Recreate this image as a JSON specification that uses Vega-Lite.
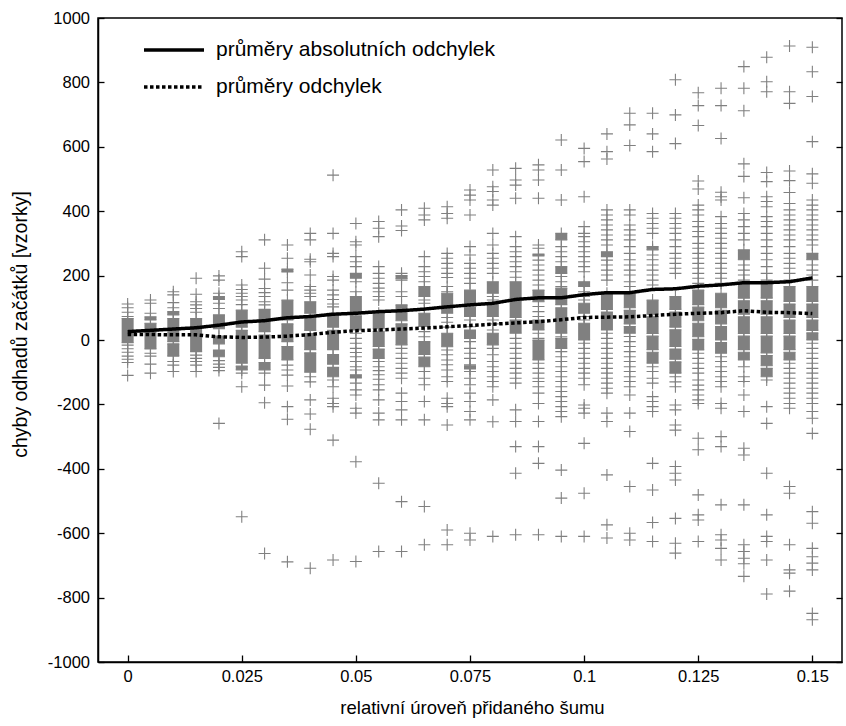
{
"$schema": "https://vega.github.io/schema/vega-lite/v6.json",
"width": 744, "height": 644,
"autosize": {"type": "none"},
"padding": {"left": 98, "top": 18, "right": 4, "bottom": 64},
"background": "white",
"config": {
 "view": {"stroke": "#000", "strokeWidth": 1.5},
 "font": "Liberation Sans",
 "axis": {"labelFont": "Liberation Sans", "titleFont": "Liberation Sans", "labelColor": "#000", "titleColor": "#000", "domainColor": "#000", "tickColor": "#000", "grid": false, "labelFontSize": 16.5, "titleFontSize": 19, "titleFontWeight": "normal", "domainWidth": 1.5, "tickWidth": 1.3, "labelFlush": false},
 "legend": {"padding": 0}
},
"datasets": {
"b": [
{"x":0,"y":67,"y2":-8},
{"x":0.005,"y":72,"y2":62},{"x":0.005,"y":52,"y2":-28},
{"x":0.01,"y":88,"y2":78},{"x":0.01,"y":67,"y2":-5},{"x":0.01,"y":-12,"y2":-50},
{"x":0.015,"y":67,"y2":-36},
{"x":0.02,"y":135,"y2":126},{"x":0.02,"y":78,"y2":35},{"x":0.02,"y":12,"y2":-12},{"x":0.02,"y":-31,"y2":-52},
{"x":0.025,"y":93,"y2":40},{"x":0.025,"y":30,"y2":-72},{"x":0.025,"y":-81,"y2":-93},
{"x":0.03,"y":95,"y2":26},{"x":0.03,"y":15,"y2":-57},{"x":0.03,"y":-70,"y2":-93},
{"x":0.035,"y":220,"y2":211},{"x":0.035,"y":124,"y2":62},{"x":0.035,"y":50,"y2":-5},{"x":0.035,"y":-20,"y2":-62},
{"x":0.04,"y":119,"y2":83},{"x":0.04,"y":75,"y2":30},{"x":0.04,"y":20,"y2":-30},{"x":0.04,"y":-40,"y2":-100},
{"x":0.045,"y":83,"y2":40},{"x":0.045,"y":30,"y2":-30},{"x":0.045,"y":-45,"y2":-75},{"x":0.045,"y":-85,"y2":-114},
{"x":0.05,"y":207,"y2":192},{"x":0.05,"y":135,"y2":85},{"x":0.05,"y":75,"y2":31},{"x":0.05,"y":-108,"y2":-118},
{"x":0.055,"y":83,"y2":35},{"x":0.055,"y":27,"y2":-20},{"x":0.055,"y":-28,"y2":-57},
{"x":0.06,"y":200,"y2":190},{"x":0.06,"y":109,"y2":60},{"x":0.06,"y":50,"y2":-15},
{"x":0.065,"y":166,"y2":135},{"x":0.065,"y":83,"y2":42},{"x":0.065,"y":-5,"y2":-45},{"x":0.065,"y":-53,"y2":-83},
{"x":0.07,"y":145,"y2":83},{"x":0.07,"y":21,"y2":-21},
{"x":0.075,"y":155,"y2":110},{"x":0.075,"y":102,"y2":73},{"x":0.075,"y":31,"y2":5},{"x":0.075,"y":-80,"y2":-90},
{"x":0.08,"y":181,"y2":145},{"x":0.08,"y":114,"y2":73},{"x":0.08,"y":21,"y2":-15},
{"x":0.085,"y":181,"y2":130},{"x":0.085,"y":122,"y2":70},{"x":0.085,"y":62,"y2":21},
{"x":0.09,"y":267,"y2":261},{"x":0.09,"y":155,"y2":119},{"x":0.09,"y":62,"y2":31},{"x":0.09,"y":0,"y2":-62},
{"x":0.095,"y":331,"y2":311},{"x":0.095,"y":228,"y2":207},{"x":0.095,"y":161,"y2":110},{"x":0.095,"y":100,"y2":21},{"x":0.095,"y":5,"y2":-26},
{"x":0.1,"y":181,"y2":166},{"x":0.1,"y":114,"y2":83},{"x":0.1,"y":52,"y2":0},
{"x":0.105,"y":274,"y2":259},{"x":0.105,"y":145,"y2":95},{"x":0.105,"y":87,"y2":31},
{"x":0.11,"y":145,"y2":100},{"x":0.11,"y":92,"y2":50},{"x":0.11,"y":42,"y2":21},
{"x":0.115,"y":290,"y2":280},{"x":0.115,"y":124,"y2":80},{"x":0.115,"y":72,"y2":20},{"x":0.115,"y":12,"y2":-30},{"x":0.115,"y":-38,"y2":-72},
{"x":0.12,"y":135,"y2":95},{"x":0.12,"y":87,"y2":40},{"x":0.12,"y":32,"y2":-20},{"x":0.12,"y":-28,"y2":-60},{"x":0.12,"y":-68,"y2":-103},
{"x":0.125,"y":155,"y2":110},{"x":0.125,"y":102,"y2":60},{"x":0.125,"y":52,"y2":10},{"x":0.125,"y":2,"y2":-31},
{"x":0.13,"y":145,"y2":100},{"x":0.13,"y":92,"y2":50},{"x":0.13,"y":42,"y2":0},{"x":0.13,"y":-8,"y2":-41},
{"x":0.135,"y":280,"y2":249},{"x":0.135,"y":176,"y2":130},{"x":0.135,"y":122,"y2":80},{"x":0.135,"y":72,"y2":20},{"x":0.135,"y":12,"y2":-30},{"x":0.135,"y":-38,"y2":-62},
{"x":0.14,"y":176,"y2":130},{"x":0.14,"y":122,"y2":80},{"x":0.14,"y":72,"y2":20},{"x":0.14,"y":12,"y2":-40},{"x":0.14,"y":-48,"y2":-80},{"x":0.14,"y":-88,"y2":-114},
{"x":0.145,"y":166,"y2":120},{"x":0.145,"y":112,"y2":70},{"x":0.145,"y":62,"y2":20},{"x":0.145,"y":12,"y2":-30},{"x":0.145,"y":-38,"y2":-62},
{"x":0.15,"y":269,"y2":249},{"x":0.15,"y":166,"y2":120},{"x":0.15,"y":112,"y2":70},{"x":0.15,"y":62,"y2":30},{"x":0.15,"y":22,"y2":0}
],
"p": [
{"x":0,"y":112},{"x":0,"y":100},{"x":0,"y":86},{"x":0,"y":73},{"x":0,"y":-16},{"x":0,"y":-27},{"x":0,"y":-38},{"x":0,"y":-50},{"x":0,"y":-60},{"x":0,"y":-70},{"x":0,"y":-110},
{"x":0.005,"y":124},{"x":0.005,"y":114},{"x":0.005,"y":83},{"x":0.005,"y":-41},{"x":0.005,"y":-50},{"x":0.005,"y":-75},{"x":0.005,"y":-103},
{"x":0.01,"y":150},{"x":0.01,"y":140},{"x":0.01,"y":116},{"x":0.01,"y":100},{"x":0.01,"y":-67},{"x":0.01,"y":-78},{"x":0.01,"y":-98},
{"x":0.015,"y":192},{"x":0.015,"y":142},{"x":0.015,"y":119},{"x":0.015,"y":109},{"x":0.015,"y":98},{"x":0.015,"y":86},{"x":0.015,"y":-47},{"x":0.015,"y":-57},{"x":0.015,"y":-67},{"x":0.015,"y":-78},{"x":0.015,"y":-98},
{"x":0.02,"y":199},{"x":0.02,"y":186},{"x":0.02,"y":145},{"x":0.02,"y":114},{"x":0.02,"y":98},{"x":0.02,"y":-64},{"x":0.02,"y":-75},{"x":0.02,"y":-85},{"x":0.02,"y":-95},{"x":0.02,"y":-259},
{"x":0.025,"y":274},{"x":0.025,"y":259},{"x":0.025,"y":171},{"x":0.025,"y":157},{"x":0.025,"y":145},{"x":0.025,"y":135},{"x":0.025,"y":124},{"x":0.025,"y":110},{"x":0.025,"y":-103},{"x":0.025,"y":-145},{"x":0.025,"y":-549},
{"x":0.03,"y":311},{"x":0.03,"y":223},{"x":0.03,"y":189},{"x":0.03,"y":160},{"x":0.03,"y":147},{"x":0.03,"y":135},{"x":0.03,"y":119},{"x":0.03,"y":109},{"x":0.03,"y":-103},{"x":0.03,"y":-140},{"x":0.03,"y":-195},{"x":0.03,"y":-663},
{"x":0.035,"y":295},{"x":0.035,"y":254},{"x":0.035,"y":178},{"x":0.035,"y":155},{"x":0.035,"y":-78},{"x":0.035,"y":-93},{"x":0.035,"y":-109},{"x":0.035,"y":-143},{"x":0.035,"y":-207},{"x":0.035,"y":-246},{"x":0.035,"y":-689},
{"x":0.04,"y":331},{"x":0.04,"y":311},{"x":0.04,"y":251},{"x":0.04,"y":243},{"x":0.04,"y":202},{"x":0.04,"y":166},{"x":0.04,"y":155},{"x":0.04,"y":145},{"x":0.04,"y":135},{"x":0.04,"y":-114},{"x":0.04,"y":-130},{"x":0.04,"y":-186},{"x":0.04,"y":-230},{"x":0.04,"y":-277},{"x":0.04,"y":-709},
{"x":0.045,"y":512},{"x":0.045,"y":331},{"x":0.045,"y":269},{"x":0.045,"y":259},{"x":0.045,"y":197},{"x":0.045,"y":186},{"x":0.045,"y":155},{"x":0.045,"y":140},{"x":0.045,"y":126},{"x":0.045,"y":112},{"x":0.045,"y":103},{"x":0.045,"y":-124},{"x":0.045,"y":-145},{"x":0.045,"y":-181},{"x":0.045,"y":-197},{"x":0.045,"y":-207},{"x":0.045,"y":-311},{"x":0.045,"y":-683},
{"x":0.05,"y":362},{"x":0.05,"y":305},{"x":0.05,"y":295},{"x":0.05,"y":259},{"x":0.05,"y":243},{"x":0.05,"y":228},{"x":0.05,"y":181},{"x":0.05,"y":150},{"x":0.05,"y":21},{"x":0.05,"y":5},{"x":0.05,"y":-10},{"x":0.05,"y":-26},{"x":0.05,"y":-39},{"x":0.05,"y":-52},{"x":0.05,"y":-67},{"x":0.05,"y":-83},{"x":0.05,"y":-93},{"x":0.05,"y":-134},{"x":0.05,"y":-155},{"x":0.05,"y":-171},{"x":0.05,"y":-212},{"x":0.05,"y":-227},{"x":0.05,"y":-378},{"x":0.05,"y":-688},
{"x":0.055,"y":368},{"x":0.055,"y":347},{"x":0.055,"y":321},{"x":0.055,"y":228},{"x":0.055,"y":207},{"x":0.055,"y":192},{"x":0.055,"y":176},{"x":0.055,"y":161},{"x":0.055,"y":150},{"x":0.055,"y":135},{"x":0.055,"y":124},{"x":0.055,"y":-67},{"x":0.055,"y":-83},{"x":0.055,"y":-95},{"x":0.055,"y":-108},{"x":0.055,"y":-122},{"x":0.055,"y":-139},{"x":0.055,"y":-155},{"x":0.055,"y":-186},{"x":0.055,"y":-227},{"x":0.055,"y":-248},{"x":0.055,"y":-445},{"x":0.055,"y":-657},
{"x":0.06,"y":404},{"x":0.06,"y":354},{"x":0.06,"y":340},{"x":0.06,"y":207},{"x":0.06,"y":186},{"x":0.06,"y":150},{"x":0.06,"y":135},{"x":0.06,"y":-26},{"x":0.06,"y":-41},{"x":0.06,"y":-57},{"x":0.06,"y":-72},{"x":0.06,"y":-88},{"x":0.06,"y":-103},{"x":0.06,"y":-119},{"x":0.06,"y":-165},{"x":0.06,"y":-191},{"x":0.06,"y":-217},{"x":0.06,"y":-248},{"x":0.06,"y":-502},{"x":0.06,"y":-657},
{"x":0.065,"y":409},{"x":0.065,"y":388},{"x":0.065,"y":373},{"x":0.065,"y":259},{"x":0.065,"y":228},{"x":0.065,"y":212},{"x":0.065,"y":197},{"x":0.065,"y":181},{"x":0.065,"y":124},{"x":0.065,"y":114},{"x":0.065,"y":98},{"x":0.065,"y":26},{"x":0.065,"y":10},{"x":0.065,"y":-98},{"x":0.065,"y":-119},{"x":0.065,"y":-139},{"x":0.065,"y":-191},{"x":0.065,"y":-248},{"x":0.065,"y":-517},{"x":0.065,"y":-636},
{"x":0.07,"y":414},{"x":0.07,"y":393},{"x":0.07,"y":378},{"x":0.07,"y":269},{"x":0.07,"y":254},{"x":0.07,"y":238},{"x":0.07,"y":223},{"x":0.07,"y":207},{"x":0.07,"y":194},{"x":0.07,"y":166},{"x":0.07,"y":150},{"x":0.07,"y":70},{"x":0.07,"y":55},{"x":0.07,"y":40},{"x":0.07,"y":-31},{"x":0.07,"y":-46},{"x":0.07,"y":-62},{"x":0.07,"y":-77},{"x":0.07,"y":-93},{"x":0.07,"y":-114},{"x":0.07,"y":-129},{"x":0.07,"y":-181},{"x":0.07,"y":-197},{"x":0.07,"y":-207},{"x":0.07,"y":-264},{"x":0.07,"y":-590},{"x":0.07,"y":-636},
{"x":0.075,"y":466},{"x":0.075,"y":450},{"x":0.075,"y":435},{"x":0.075,"y":388},{"x":0.075,"y":290},{"x":0.075,"y":264},{"x":0.075,"y":238},{"x":0.075,"y":223},{"x":0.075,"y":207},{"x":0.075,"y":192},{"x":0.075,"y":176},{"x":0.075,"y":62},{"x":0.075,"y":41},{"x":0.075,"y":-5},{"x":0.075,"y":-26},{"x":0.075,"y":-41},{"x":0.075,"y":-57},{"x":0.075,"y":-77},{"x":0.075,"y":-98},{"x":0.075,"y":-119},{"x":0.075,"y":-139},{"x":0.075,"y":-165},{"x":0.075,"y":-191},{"x":0.075,"y":-222},{"x":0.075,"y":-248},{"x":0.075,"y":-600},{"x":0.075,"y":-621},
{"x":0.08,"y":528},{"x":0.08,"y":476},{"x":0.08,"y":461},{"x":0.08,"y":435},{"x":0.08,"y":419},{"x":0.08,"y":331},{"x":0.08,"y":295},{"x":0.08,"y":269},{"x":0.08,"y":254},{"x":0.08,"y":238},{"x":0.08,"y":223},{"x":0.08,"y":207},{"x":0.08,"y":135},{"x":0.08,"y":124},{"x":0.08,"y":62},{"x":0.08,"y":50},{"x":0.08,"y":31},{"x":0.08,"y":-26},{"x":0.08,"y":-46},{"x":0.08,"y":-67},{"x":0.08,"y":-83},{"x":0.08,"y":-98},{"x":0.08,"y":-114},{"x":0.08,"y":-129},{"x":0.08,"y":-145},{"x":0.08,"y":-186},{"x":0.08,"y":-254},{"x":0.08,"y":-610},
{"x":0.085,"y":533},{"x":0.085,"y":497},{"x":0.085,"y":481},{"x":0.085,"y":440},{"x":0.085,"y":321},{"x":0.085,"y":290},{"x":0.085,"y":274},{"x":0.085,"y":259},{"x":0.085,"y":243},{"x":0.085,"y":228},{"x":0.085,"y":212},{"x":0.085,"y":195},{"x":0.085,"y":5},{"x":0.085,"y":-10},{"x":0.085,"y":-26},{"x":0.085,"y":-41},{"x":0.085,"y":-57},{"x":0.085,"y":-72},{"x":0.085,"y":-88},{"x":0.085,"y":-103},{"x":0.085,"y":-119},{"x":0.085,"y":-134},{"x":0.085,"y":-217},{"x":0.085,"y":-253},{"x":0.085,"y":-331},{"x":0.085,"y":-414},{"x":0.085,"y":-605},
{"x":0.09,"y":544},{"x":0.09,"y":528},{"x":0.09,"y":497},{"x":0.09,"y":440},{"x":0.09,"y":295},{"x":0.09,"y":285},{"x":0.09,"y":248},{"x":0.09,"y":233},{"x":0.09,"y":217},{"x":0.09,"y":202},{"x":0.09,"y":186},{"x":0.09,"y":171},{"x":0.09,"y":104},{"x":0.09,"y":88},{"x":0.09,"y":73},{"x":0.09,"y":21},{"x":0.09,"y":5},{"x":0.09,"y":-72},{"x":0.09,"y":-88},{"x":0.09,"y":-103},{"x":0.09,"y":-119},{"x":0.09,"y":-129},{"x":0.09,"y":-145},{"x":0.09,"y":-165},{"x":0.09,"y":-197},{"x":0.09,"y":-253},{"x":0.09,"y":-331},{"x":0.09,"y":-383},{"x":0.09,"y":-605},
{"x":0.095,"y":621},{"x":0.095,"y":528},{"x":0.095,"y":435},{"x":0.095,"y":290},{"x":0.095,"y":274},{"x":0.095,"y":259},{"x":0.095,"y":243},{"x":0.095,"y":197},{"x":0.095,"y":181},{"x":0.095,"y":166},{"x":0.095,"y":10},{"x":0.095,"y":-36},{"x":0.095,"y":-52},{"x":0.095,"y":-67},{"x":0.095,"y":-83},{"x":0.095,"y":-98},{"x":0.095,"y":-114},{"x":0.095,"y":-129},{"x":0.095,"y":-145},{"x":0.095,"y":-160},{"x":0.095,"y":-176},{"x":0.095,"y":-191},{"x":0.095,"y":-207},{"x":0.095,"y":-222},{"x":0.095,"y":-238},{"x":0.095,"y":-404},{"x":0.095,"y":-491},{"x":0.095,"y":-610},
{"x":0.1,"y":595},{"x":0.1,"y":554},{"x":0.1,"y":445},{"x":0.1,"y":352},{"x":0.1,"y":331},{"x":0.1,"y":321},{"x":0.1,"y":305},{"x":0.1,"y":290},{"x":0.1,"y":274},{"x":0.1,"y":259},{"x":0.1,"y":243},{"x":0.1,"y":228},{"x":0.1,"y":212},{"x":0.1,"y":150},{"x":0.1,"y":135},{"x":0.1,"y":124},{"x":0.1,"y":73},{"x":0.1,"y":62},{"x":0.1,"y":-10},{"x":0.1,"y":-26},{"x":0.1,"y":-41},{"x":0.1,"y":-57},{"x":0.1,"y":-72},{"x":0.1,"y":-88},{"x":0.1,"y":-103},{"x":0.1,"y":-119},{"x":0.1,"y":-139},{"x":0.1,"y":-202},{"x":0.1,"y":-212},{"x":0.1,"y":-227},{"x":0.1,"y":-321},{"x":0.1,"y":-476},{"x":0.1,"y":-610},
{"x":0.105,"y":640},{"x":0.105,"y":585},{"x":0.105,"y":562},{"x":0.105,"y":404},{"x":0.105,"y":388},{"x":0.105,"y":373},{"x":0.105,"y":357},{"x":0.105,"y":342},{"x":0.105,"y":326},{"x":0.105,"y":311},{"x":0.105,"y":295},{"x":0.105,"y":248},{"x":0.105,"y":233},{"x":0.105,"y":217},{"x":0.105,"y":202},{"x":0.105,"y":186},{"x":0.105,"y":21},{"x":0.105,"y":5},{"x":0.105,"y":-10},{"x":0.105,"y":-26},{"x":0.105,"y":-41},{"x":0.105,"y":-57},{"x":0.105,"y":-72},{"x":0.105,"y":-88},{"x":0.105,"y":-103},{"x":0.105,"y":-119},{"x":0.105,"y":-134},{"x":0.105,"y":-150},{"x":0.105,"y":-165},{"x":0.105,"y":-227},{"x":0.105,"y":-253},{"x":0.105,"y":-419},{"x":0.105,"y":-574},{"x":0.105,"y":-615},
{"x":0.11,"y":704},{"x":0.11,"y":668},{"x":0.11,"y":604},{"x":0.11,"y":404},{"x":0.11,"y":388},{"x":0.11,"y":357},{"x":0.11,"y":342},{"x":0.11,"y":326},{"x":0.11,"y":311},{"x":0.11,"y":290},{"x":0.11,"y":269},{"x":0.11,"y":249},{"x":0.11,"y":233},{"x":0.11,"y":217},{"x":0.11,"y":202},{"x":0.11,"y":181},{"x":0.11,"y":166},{"x":0.11,"y":11},{"x":0.11,"y":-5},{"x":0.11,"y":-20},{"x":0.11,"y":-36},{"x":0.11,"y":-52},{"x":0.11,"y":-67},{"x":0.11,"y":-83},{"x":0.11,"y":-98},{"x":0.11,"y":-114},{"x":0.11,"y":-129},{"x":0.11,"y":-145},{"x":0.11,"y":-171},{"x":0.11,"y":-227},{"x":0.11,"y":-284},{"x":0.11,"y":-455},{"x":0.11,"y":-600},{"x":0.11,"y":-621},
{"x":0.115,"y":704},{"x":0.115,"y":640},{"x":0.115,"y":585},{"x":0.115,"y":393},{"x":0.115,"y":378},{"x":0.115,"y":362},{"x":0.115,"y":347},{"x":0.115,"y":331},{"x":0.115,"y":264},{"x":0.115,"y":249},{"x":0.115,"y":233},{"x":0.115,"y":217},{"x":0.115,"y":202},{"x":0.115,"y":186},{"x":0.115,"y":171},{"x":0.115,"y":-83},{"x":0.115,"y":-98},{"x":0.115,"y":-119},{"x":0.115,"y":-134},{"x":0.115,"y":-176},{"x":0.115,"y":-191},{"x":0.115,"y":-207},{"x":0.115,"y":-222},{"x":0.115,"y":-383},{"x":0.115,"y":-466},{"x":0.115,"y":-567},{"x":0.115,"y":-626},
{"x":0.12,"y":808},{"x":0.12,"y":699},{"x":0.12,"y":610},{"x":0.12,"y":393},{"x":0.12,"y":378},{"x":0.12,"y":362},{"x":0.12,"y":347},{"x":0.12,"y":331},{"x":0.12,"y":311},{"x":0.12,"y":290},{"x":0.12,"y":269},{"x":0.12,"y":254},{"x":0.12,"y":238},{"x":0.12,"y":223},{"x":0.12,"y":207},{"x":0.12,"y":-114},{"x":0.12,"y":-130},{"x":0.12,"y":-145},{"x":0.12,"y":-202},{"x":0.12,"y":-217},{"x":0.12,"y":-264},{"x":0.12,"y":-280},{"x":0.12,"y":-393},{"x":0.12,"y":-414},{"x":0.12,"y":-435},{"x":0.12,"y":-554},{"x":0.12,"y":-631},{"x":0.12,"y":-662},
{"x":0.125,"y":768},{"x":0.125,"y":728},{"x":0.125,"y":666},{"x":0.125,"y":494},{"x":0.125,"y":469},{"x":0.125,"y":419},{"x":0.125,"y":404},{"x":0.125,"y":388},{"x":0.125,"y":368},{"x":0.125,"y":352},{"x":0.125,"y":337},{"x":0.125,"y":321},{"x":0.125,"y":300},{"x":0.125,"y":285},{"x":0.125,"y":269},{"x":0.125,"y":254},{"x":0.125,"y":238},{"x":0.125,"y":223},{"x":0.125,"y":207},{"x":0.125,"y":192},{"x":0.125,"y":176},{"x":0.125,"y":-41},{"x":0.125,"y":-57},{"x":0.125,"y":-72},{"x":0.125,"y":-88},{"x":0.125,"y":-103},{"x":0.125,"y":-124},{"x":0.125,"y":-140},{"x":0.125,"y":-155},{"x":0.125,"y":-171},{"x":0.125,"y":-186},{"x":0.125,"y":-197},{"x":0.125,"y":-305},{"x":0.125,"y":-341},{"x":0.125,"y":-481},{"x":0.125,"y":-543},{"x":0.125,"y":-559},{"x":0.125,"y":-626},
{"x":0.13,"y":782},{"x":0.13,"y":728},{"x":0.13,"y":626},{"x":0.13,"y":459},{"x":0.13,"y":445},{"x":0.13,"y":435},{"x":0.13,"y":383},{"x":0.13,"y":362},{"x":0.13,"y":347},{"x":0.13,"y":331},{"x":0.13,"y":316},{"x":0.13,"y":300},{"x":0.13,"y":285},{"x":0.13,"y":269},{"x":0.13,"y":254},{"x":0.13,"y":238},{"x":0.13,"y":223},{"x":0.13,"y":207},{"x":0.13,"y":192},{"x":0.13,"y":176},{"x":0.13,"y":-52},{"x":0.13,"y":-67},{"x":0.13,"y":-83},{"x":0.13,"y":-98},{"x":0.13,"y":-114},{"x":0.13,"y":-129},{"x":0.13,"y":-145},{"x":0.13,"y":-197},{"x":0.13,"y":-212},{"x":0.13,"y":-300},{"x":0.13,"y":-331},{"x":0.13,"y":-512},{"x":0.13,"y":-605},{"x":0.13,"y":-621},{"x":0.13,"y":-647},{"x":0.13,"y":-683},
{"x":0.135,"y":849},{"x":0.135,"y":782},{"x":0.135,"y":712},{"x":0.135,"y":547},{"x":0.135,"y":508},{"x":0.135,"y":442},{"x":0.135,"y":393},{"x":0.135,"y":373},{"x":0.135,"y":352},{"x":0.135,"y":331},{"x":0.135,"y":311},{"x":0.135,"y":233},{"x":0.135,"y":217},{"x":0.135,"y":202},{"x":0.135,"y":186},{"x":0.135,"y":-83},{"x":0.135,"y":-114},{"x":0.135,"y":-129},{"x":0.135,"y":-171},{"x":0.135,"y":-222},{"x":0.135,"y":-336},{"x":0.135,"y":-357},{"x":0.135,"y":-512},{"x":0.135,"y":-636},{"x":0.135,"y":-657},{"x":0.135,"y":-678},{"x":0.135,"y":-695},{"x":0.135,"y":-734},
{"x":0.14,"y":878},{"x":0.14,"y":802},{"x":0.14,"y":771},{"x":0.14,"y":520},{"x":0.14,"y":492},{"x":0.14,"y":445},{"x":0.14,"y":430},{"x":0.14,"y":414},{"x":0.14,"y":383},{"x":0.14,"y":368},{"x":0.14,"y":352},{"x":0.14,"y":331},{"x":0.14,"y":311},{"x":0.14,"y":290},{"x":0.14,"y":269},{"x":0.14,"y":249},{"x":0.14,"y":228},{"x":0.14,"y":207},{"x":0.14,"y":186},{"x":0.14,"y":-124},{"x":0.14,"y":-207},{"x":0.14,"y":-259},{"x":0.14,"y":-414},{"x":0.14,"y":-543},{"x":0.14,"y":-610},{"x":0.14,"y":-626},{"x":0.14,"y":-683},{"x":0.14,"y":-789},
{"x":0.145,"y":913},{"x":0.145,"y":771},{"x":0.145,"y":735},{"x":0.145,"y":525},{"x":0.145,"y":495},{"x":0.145,"y":458},{"x":0.145,"y":424},{"x":0.145,"y":404},{"x":0.145,"y":388},{"x":0.145,"y":373},{"x":0.145,"y":357},{"x":0.145,"y":342},{"x":0.145,"y":326},{"x":0.145,"y":311},{"x":0.145,"y":290},{"x":0.145,"y":269},{"x":0.145,"y":254},{"x":0.145,"y":238},{"x":0.145,"y":223},{"x":0.145,"y":207},{"x":0.145,"y":186},{"x":0.145,"y":-72},{"x":0.145,"y":-88},{"x":0.145,"y":-103},{"x":0.145,"y":-119},{"x":0.145,"y":-134},{"x":0.145,"y":-150},{"x":0.145,"y":-165},{"x":0.145,"y":-181},{"x":0.145,"y":-197},{"x":0.145,"y":-212},{"x":0.145,"y":-455},{"x":0.145,"y":-476},{"x":0.145,"y":-636},{"x":0.145,"y":-714},{"x":0.145,"y":-724},{"x":0.145,"y":-780},
{"x":0.15,"y":909},{"x":0.15,"y":833},{"x":0.15,"y":756},{"x":0.15,"y":616},{"x":0.15,"y":516},{"x":0.15,"y":487},{"x":0.15,"y":435},{"x":0.15,"y":419},{"x":0.15,"y":404},{"x":0.15,"y":388},{"x":0.15,"y":373},{"x":0.15,"y":357},{"x":0.15,"y":342},{"x":0.15,"y":326},{"x":0.15,"y":311},{"x":0.15,"y":295},{"x":0.15,"y":233},{"x":0.15,"y":217},{"x":0.15,"y":202},{"x":0.15,"y":186},{"x":0.15,"y":-10},{"x":0.15,"y":-26},{"x":0.15,"y":-41},{"x":0.15,"y":-57},{"x":0.15,"y":-72},{"x":0.15,"y":-88},{"x":0.15,"y":-103},{"x":0.15,"y":-119},{"x":0.15,"y":-134},{"x":0.15,"y":-150},{"x":0.15,"y":-165},{"x":0.15,"y":-181},{"x":0.15,"y":-197},{"x":0.15,"y":-222},{"x":0.15,"y":-243},{"x":0.15,"y":-290},{"x":0.15,"y":-533},{"x":0.15,"y":-569},{"x":0.15,"y":-647},{"x":0.15,"y":-673},{"x":0.15,"y":-693},{"x":0.15,"y":-714},{"x":0.15,"y":-849},{"x":0.15,"y":-869}
],
"l": [
{"x":0,"s":"průměry absolutních odchylek","v":26},{"x":0.005,"s":"průměry absolutních odchylek","v":30},{"x":0.01,"s":"průměry absolutních odchylek","v":34},{"x":0.015,"s":"průměry absolutních odchylek","v":38},{"x":0.02,"s":"průměry absolutních odchylek","v":46},{"x":0.025,"s":"průměry absolutních odchylek","v":56},{"x":0.03,"s":"průměry absolutních odchylek","v":60},{"x":0.035,"s":"průměry absolutních odchylek","v":69},{"x":0.04,"s":"průměry absolutních odchylek","v":73},{"x":0.045,"s":"průměry absolutních odchylek","v":80},{"x":0.05,"s":"průměry absolutních odchylek","v":83},{"x":0.055,"s":"průměry absolutních odchylek","v":88},{"x":0.06,"s":"průměry absolutních odchylek","v":91},{"x":0.065,"s":"průměry absolutních odchylek","v":96},{"x":0.07,"s":"průměry absolutních odchylek","v":103},{"x":0.075,"s":"průměry absolutních odchylek","v":109},{"x":0.08,"s":"průměry absolutních odchylek","v":114},{"x":0.085,"s":"průměry absolutních odchylek","v":126},{"x":0.09,"s":"průměry absolutních odchylek","v":131},{"x":0.095,"s":"průměry absolutních odchylek","v":131},{"x":0.1,"s":"průměry absolutních odchylek","v":141},{"x":0.105,"s":"průměry absolutních odchylek","v":147},{"x":0.11,"s":"průměry absolutních odchylek","v":147},{"x":0.115,"s":"průměry absolutních odchylek","v":157},{"x":0.12,"s":"průměry absolutních odchylek","v":159},{"x":0.125,"s":"průměry absolutních odchylek","v":167},{"x":0.13,"s":"průměry absolutních odchylek","v":171},{"x":0.135,"s":"průměry absolutních odchylek","v":178},{"x":0.14,"s":"průměry absolutních odchylek","v":178},{"x":0.145,"s":"průměry absolutních odchylek","v":181},{"x":0.15,"s":"průměry absolutních odchylek","v":193},
{"x":0,"s":"průměry odchylek","v":17},{"x":0.005,"s":"průměry odchylek","v":17},{"x":0.01,"s":"průměry odchylek","v":16},{"x":0.015,"s":"průměry odchylek","v":16},{"x":0.02,"s":"průměry odchylek","v":10},{"x":0.025,"s":"průměry odchylek","v":8},{"x":0.03,"s":"průměry odchylek","v":9},{"x":0.035,"s":"průměry odchylek","v":12},{"x":0.04,"s":"průměry odchylek","v":17},{"x":0.045,"s":"průměry odchylek","v":24},{"x":0.05,"s":"průměry odchylek","v":29},{"x":0.055,"s":"průměry odchylek","v":31},{"x":0.06,"s":"průměry odchylek","v":34},{"x":0.065,"s":"průměry odchylek","v":37},{"x":0.07,"s":"průměry odchylek","v":41},{"x":0.075,"s":"průměry odchylek","v":45},{"x":0.08,"s":"průměry odchylek","v":49},{"x":0.085,"s":"průměry odchylek","v":53},{"x":0.09,"s":"průměry odchylek","v":57},{"x":0.095,"s":"průměry odchylek","v":63},{"x":0.1,"s":"průměry odchylek","v":70},{"x":0.105,"s":"průměry odchylek","v":71},{"x":0.11,"s":"průměry odchylek","v":72},{"x":0.115,"s":"průměry odchylek","v":76},{"x":0.12,"s":"průměry odchylek","v":80},{"x":0.125,"s":"průměry odchylek","v":83},{"x":0.13,"s":"průměry odchylek","v":85},{"x":0.135,"s":"průměry odchylek","v":91},{"x":0.14,"s":"průměry odchylek","v":86},{"x":0.145,"s":"průměry odchylek","v":85},{"x":0.15,"s":"průměry odchylek","v":82}
]
},
"resolve": {"axis": {"y": "independent"}},
"layer": [
{
 "data": {"name": "b"},
 "mark": {"type": "bar", "width": 12, "color": "#808080"},
 "encoding": {
  "x": {"field": "x", "type": "quantitative", "scale": {"domain": [-0.0054, 0.1554], "nice": false, "zero": false},
   "axis": {"values": [0, 0.025, 0.05, 0.075, 0.1, 0.125, 0.15], "format": ".3~f", "tickSize": -7, "labelPadding": 13, "title": "relativní úroveň přidaného šumu", "titleFontSize": 18.5, "titleBaseline": "middle", "titleX": 374, "titleY": 45}},
  "y": {"field": "y", "type": "quantitative", "scale": {"domain": [-1000, 1000], "nice": false},
   "axis": {"values": [-1000, -800, -600, -400, -200, 0, 200, 400, 600, 800, 1000], "format": "d", "labelExpr": "replace(datum.label, '−', '-')", "tickSize": -6, "labelPadding": 14.5, "title": "chyby odhadů začátků [vzorky]", "titleFontSize": 19.5, "titleBaseline": "middle", "titleX": -78, "titleY": 306}},
  "y2": {"field": "y2"}
 }
},
{
 "data": {"name": "p"},
 "mark": {"type": "point", "shape": "M-1,0H1M0,-1V1", "size": 144, "filled": false, "stroke": "#808080", "strokeWidth": 1.1, "opacity": 1},
 "encoding": {
  "x": {"field": "x", "type": "quantitative"},
  "y": {"field": "y", "type": "quantitative", "axis": null}
 }
},
{
 "data": {"name": "b"},
 "mark": {"type": "point", "shape": "M-1,0H1M0,-1V1", "size": 144, "filled": false, "stroke": "#808080", "strokeWidth": 1.1, "opacity": 1},
 "encoding": {
  "x": {"field": "x", "type": "quantitative"},
  "y": {"field": "y", "type": "quantitative", "axis": null}
 }
},
{
 "data": {"name": "b"},
 "mark": {"type": "point", "shape": "M-1,0H1M0,-1V1", "size": 144, "filled": false, "stroke": "#808080", "strokeWidth": 1.1, "opacity": 1},
 "encoding": {
  "x": {"field": "x", "type": "quantitative"},
  "y": {"field": "y2", "type": "quantitative", "axis": null}
 }
},
{
 "data": {"name": "l"},
 "mark": {"type": "line", "color": "#000", "strokeWidth": 3.5, "strokeCap": "butt"},
 "encoding": {
  "x": {"field": "x", "type": "quantitative"},
  "y": {"field": "v", "type": "quantitative",
   "axis": {"orient": "right", "labels": false, "domain": false, "tickSize": -6, "title": null, "values": [-1000, -800, -600, -400, -200, 0, 200, 400, 600, 800, 1000]}},
  "strokeDash": {"field": "s", "type": "nominal",
   "scale": {"domain": ["průměry absolutních odchylek", "průměry odchylek"], "range": [[1, 0], [3.5, 2.5]]},
   "legend": {"orient": "none", "legendX": 44, "legendY": 20, "title": null, "symbolType": "stroke", "symbolSize": 3600, "symbolStrokeWidth": 3.5, "symbolStrokeColor": "#000", "labelFontSize": 21, "labelFont": "Liberation Sans", "labelColor": "#000", "labelOffset": 10, "labelLimit": 500, "clipHeight": 24, "rowPadding": 13}}
 }
}
]
}
